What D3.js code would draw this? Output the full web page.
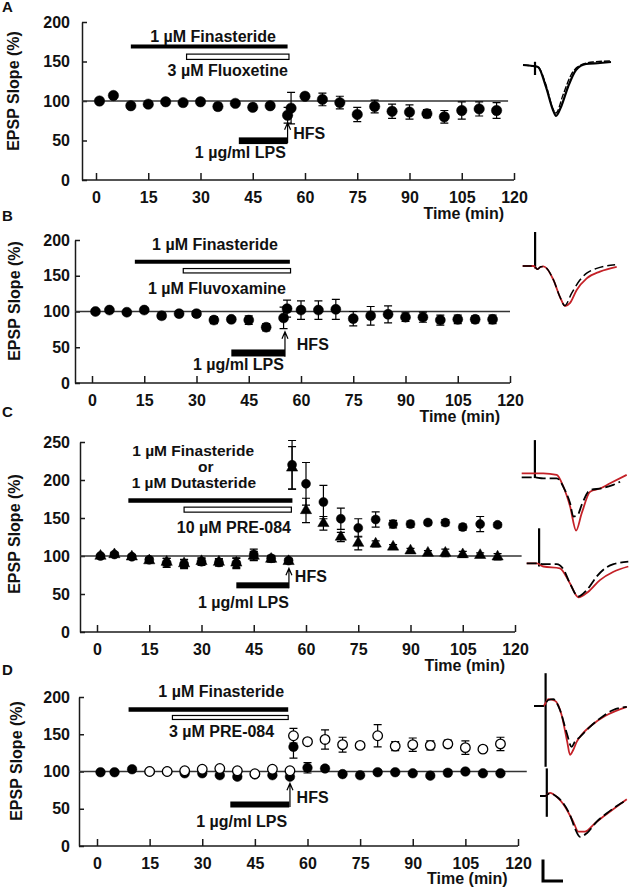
<!DOCTYPE html>
<html><head><meta charset="utf-8">
<script src="https://cdn.jsdelivr.net/npm/d3@7"></script>
<style>
body{margin:0;background:#fff;}
svg text{font-family:"Liberation Sans",Arial,sans-serif;font-weight:bold;fill:#111;}
</style></head><body>
<svg id="chart" width="630" height="889"></svg>
<script>
// ---------- data ----------
const timeTicks = [0,15,30,45,60,75,90,105,120];
const slopeTicks200 = [0,50,100,150,200];
const slopeTicks250 = [0,50,100,150,200,250];
const minutes = [1,5,10,15,20,25,30,35,40,45,50,55,56,60,65,70,75,80,85,90,95,100,105,110,115];

const slopeA = [100,107,94,96,99,98,99,93,97,92,94,82,91,106,102,98,83,93,87,86,84,80,88,90,88];
const semA   = [2,2,3,2,2,2,2,4,2,4,3,10,20,3,8,8,9,8,9,9,5,8,11,9,10];

const slopeB = [100,102,99,102,94,97,97,88,89,88,78,91,104,102,102,103,90,94,96,92,92,88,89,89,89];
const semB   = [2,2,2,3,4,3,4,5,3,6,5,15,12,13,13,14,10,13,12,6,7,7,6,5,6];

const slopeC_circle = [100,102,99,95,91,89.5,92.5,91.5,90.5,102,97,94,220,195,171,149,137,148,142,142,144,144,138,142,141];
const semC_circle   = [2,2,3,3,6,6,5,5,7,7,4,3,32,28,22,14,12,10,5,4,3,4,4,10,3];
const slopeC_triangle = [100,102,99,94,92,90,93,92,91,100,96,93,216,160,143,125,117,116,112,107,104,104,102,101,99];
const semC_triangle   = [2,2,2,3,5,5,4,4,6,6,4,3,28,16,9,6,9,4,3,3,3,5,4,3,4];

const slopeD_filled = [99,99,103,100,100,97.6,97.6,95,93,96,95,93,133,105,104,96.5,95,99,99,97.6,94.4,98.3,100,97.6,97.6];
const semD_filled   = [2,2,2,2,2,2,2,2,3,2,2,3,15,7,3,2,2,3,2,2,2,2,2,2,2];
const minutesD_open = [15,20,25,30,35,40,45,50,55,56,60,65,70,75,80,85,90,95,100,105,110,115];
const slopeD_open   = [100,100,101,103,104,101,97,103,101,148,140,143,136,135,148,134,136,135,137,132,130,137];
const semD_open     = [2,2,2,2,2,2,2,2,2,10,3,13,10,3,15,6,9,6,5,9,3,9];

// drug application bars [start min, end min, level %]
const barsA = {drug1:[10,55,169], drug2:[26,55.4,156], lps:[41,55,49.7]};
const barsB = {drug1:[12.3,56.8,169.6], drug2:[26.2,57,157], lps:[40,55.4,42]};
const barsC = {drug1:[9,56.1,173], drug2:[25,55.8,161], lps:[40,55.1,61.4]};
const barsD = {drug1:[9,54.5,183.2], drug2:[21.5,54.5,172.5], lps:[38,54.8,55.7]};

// example field potential traces [ms, mV]
const traceA_solid = [[0,0],[2.5,-0.025],[3.75,-0.05],[5.75,-0.55],[7.5,-1.125],[8.25,-1.275],[9.5,-1.05],[11.25,-0.55],[13.25,-0.125],[15.75,0.025],[19.25,0.05],[22,0.075]];
const traceA_dash  = [[0,0],[2.5,-0.025],[3.75,-0.05],[5.75,-0.5],[7.5,-1.1],[8.25,-1.2],[10,-0.75],[12,-0.25],[14.5,0],[17.5,0.075],[22,0.1]];
const traceB_red   = [[0,0],[2.7,0],[3.7,-0.08],[4.5,-0.02],[5.2,-0.01],[7.7,-0.35],[9.3,-0.77],[10.6,-1.0],[11.8,-0.93],[13.5,-0.6],[16,-0.31],[19.3,-0.14],[23.5,-0.02]];
const traceB_black = [[0,0],[2.7,0],[3.7,-0.08],[4.5,-0.02],[5.2,-0.01],[7.7,-0.35],[9.3,-0.77],[10.5,-0.99],[12.25,-0.68],[14.3,-0.35],[16,-0.18],[18.5,-0.06],[23.1,0.03]];
const traceC1_red   = [[0,0],[2.9,0],[5.4,0],[8.75,-0.04],[10.4,-0.33],[12.1,-0.83],[13.6,-1.43],[15,-1.0],[17.1,-0.46],[19.6,-0.38],[22.1,-0.25],[26.25,-0.04]];
const traceC1_black = [[0,-0.1],[2.9,-0.1],[5.4,-0.125],[8.75,-0.125],[10.8,-0.42],[12.1,-0.75],[12.9,-1.08],[14,-1.04],[15,-0.79],[17.1,-0.42],[20,-0.375],[22.9,-0.29],[24.6,-0.21]];
const traceC2_red   = [[0,0],[2.5,0],[4.2,-0.08],[8.3,-0.125],[10.8,-0.5],[12.9,-0.85],[15.4,-0.71],[18.3,-0.42],[21.7,-0.21],[25.4,-0.08]];
const traceC2_black = [[0,0],[2.5,0],[4.2,-0.02],[7.5,-0.02],[9.2,-0.15],[10.8,-0.5],[12.9,-0.83],[15,-0.67],[17.5,-0.33],[19.6,-0.125],[21.7,-0.02],[25.4,0.04]];
const traceD1_red   = [[0,0],[2.3,0],[3.6,0.17],[5.25,0.13],[6.9,-0.225],[8.3,-0.89],[9,-1.22],[9.8,-1.1],[10.7,-0.89],[11.9,-0.72],[14.4,-0.48],[17.75,-0.25],[23.2,-0.02]];
const traceD1_black = [[0,0],[2.3,0],[3.6,0.15],[4.8,0.17],[6.5,-0.1],[8.2,-0.68],[9.4,-1.02],[10.25,-0.89],[11.5,-0.77],[14,-0.52],[16.5,-0.31],[19.8,-0.1],[23.2,-0.02]];
const traceD2_red   = [[0,0],[1.25,0],[2.5,0.08],[4.2,-0.02],[5.8,-0.2],[8.3,-0.64],[9.6,-0.89],[11.25,-0.89],[13.75,-0.68],[16.7,-0.45],[21.7,-0.08]];
const traceD2_black = [[0,0],[1.25,0],[2.5,0.07],[4.2,-0.02],[5.8,-0.18],[7.5,-0.475],[8.75,-0.81],[10,-1.02],[11.7,-0.93],[14.2,-0.64],[16.7,-0.43],[19.2,-0.25],[21.7,-0.1]];
// stimulus artifacts [ms, top mV, bottom mV]
const artifactA = [3,0.08,-0.25];
const artifactB = [3.1,0.85,-0.06];
const artifactC1 = [3.3,0.83,-0.12];
const artifactC2 = [3.1,0.875,-0.08];
const artifactD1 = [2.9,0.82,-1.52];
const artifactD2 = [1.7,0.69,-0.52];
const scaleBar = [5,0.54]; // ms, mV

// ---------- drawing ----------
const svg = d3.select("#chart");
const RED = "#c42127";

const panels = [
 {letter:"A", letterY:12, xr:[96,514], yr:[180,22], ymax:200, ticks:slopeTicks200, axisX:82, lineEnd:118.3,
  titleX:19, titleY:91, timeY:219,
  series:[{t:minutes, v:slopeA, e:semA, shape:"circle", r:5.2}],
  bars:barsA,
  texts:[{s:"1 µM Finasteride", t:33.6, v:175, a:"middle"},
         {s:"3 µM Fluoxetine", t:55.1, v:131.6, a:"end"},
         {s:"1 µg/ml LPS", t:54.5, v:27.8, a:"end"}],
  arrow:[55,46.8,72.5], hfs:[56.6,51.5], th:[4,5.3,6.7]},
 {letter:"B", letterY:221, xr:[92,510], yr:[383,240], ymax:200, ticks:slopeTicks200, axisX:75, lineEnd:120,
  titleX:20, titleY:301, timeY:422,
  series:[{t:minutes, v:slopeB, e:semB, shape:"circle", r:5}],
  bars:barsB,
  texts:[{s:"1 µM Finasteride", t:35.3, v:186, a:"middle"},
         {s:"1 µM Fluvoxamine", t:55.7, v:124.5, a:"end"},
         {s:"1 µg/ml LPS", t:55.1, v:18.2, a:"end"}],
  arrow:[55.4,36.8,71.7], hfs:[58.8,46.2], th:[4,4.4,7]},
 {letter:"C", letterY:417, xr:[97,515], yr:[632,442], ymax:250, ticks:slopeTicks250, axisX:80, lineEnd:121.9,
  titleX:19.5, titleY:534, timeY:671,
  series:[{t:minutes, v:slopeC_triangle, e:semC_triangle, shape:"triangle", r:4.6},
          {t:minutes, v:slopeC_circle, e:semC_circle, shape:"circle", r:4.5}],
  bars:barsC,
  texts:[{s:"1 µM Finasteride", t:27.6, v:231.6, a:"middle", fs:15.5},
         {s:"or", t:31.2, v:210.5, a:"middle", fs:15.5},
         {s:"1 µM Dutasteride", t:27.8, v:189.8, a:"middle", fs:15.5},
         {s:"10 µM PRE-084", t:55.7, v:129.9, a:"end"},
         {s:"1 µg/ml LPS", t:55.1, v:31.2, a:"end"}],
  arrow:[55.1,57.5,83.8], hfs:[56.8,66.2], th:[4.5,5,6]},
 {letter:"D", letterY:675, xr:[97,518], yr:[846,697], ymax:200, ticks:slopeTicks200, axisX:79, lineEnd:122.5,
  titleX:22, titleY:761, timeY:884,
  series:[{t:minutes, v:slopeD_filled, e:semD_filled, shape:"circle", r:4.8},
          {t:minutesD_open, v:slopeD_open, e:semD_open, shape:"open", r:4.8}],
  bars:barsD,
  texts:[{s:"1 µM Finasteride", t:35.4, v:200.4, a:"middle"},
         {s:"3 µM PRE-084", t:35.5, v:146.7, a:"middle"},
         {s:"1 µg/ml LPS", t:54.2, v:25.9, a:"end"}],
  arrow:[55,52.3,84.2], hfs:[56.9,58.1], th:[4.5,4,6]}
];

const INK = "#1a1a1a";

panels.forEach(p => {
  const x = d3.scaleLinear().domain([0,120]).range(p.xr);
  const y = d3.scaleLinear().domain([0,p.ymax]).range(p.yr);
  const g = svg.append("g");

  // panel letter
  g.append("text").attr("x",2).attr("y",p.letterY).attr("font-size",15).text(p.letter);

  // y axis
  const ya = g.append("g").attr("transform",`translate(${p.axisX},0)`)
    .call(d3.axisLeft(y).tickValues(p.ticks).tickSizeInner(-5).tickSizeOuter(0).tickPadding(p.axisX-70));
  ya.attr("font-family",null).attr("font-size",null);
  ya.selectAll("text").attr("font-size",16);
  ya.selectAll("line").attr("stroke",INK).attr("stroke-width",1.5);
  ya.select(".domain").attr("stroke",INK).attr("stroke-width",1.5);

  // x axis
  const xa = g.append("g").attr("transform",`translate(0,${y(0)})`)
    .call(d3.axisBottom(x).tickValues(timeTicks).tickSizeInner(-7).tickSizeOuter(0).tickPadding(11.5));
  xa.attr("font-family",null).attr("font-size",null);
  xa.selectAll("text").attr("font-size",16);
  xa.selectAll("line").attr("stroke",INK).attr("stroke-width",1.5);
  xa.select(".domain").remove();
  g.append("line").attr("x1",p.axisX).attr("x2",x(120)).attr("y1",y(0)).attr("y2",y(0))
    .attr("stroke",INK).attr("stroke-width",1.5);

  // axis titles
  g.append("text").attr("transform",`translate(${p.titleX},${p.titleY}) rotate(-90)`)
    .attr("text-anchor","middle").attr("font-size",16).text("EPSP Slope (%)");
  g.append("text").attr("x",x(105)+2).attr("y",p.timeY).attr("text-anchor","middle")
    .attr("font-size",16).text("Time (min)");

  // 100% reference line
  g.append("line").attr("x1",p.axisX).attr("x2",x(p.lineEnd)).attr("y1",y(100)).attr("y2",y(100))
    .attr("stroke","#333").attr("stroke-width",1.4);

  // drug bars
  const b = p.bars;
  g.append("rect").attr("x",x(b.drug1[0])).attr("width",x(b.drug1[1])-x(b.drug1[0]))
    .attr("y",y(b.drug1[2])-p.th[0]/2).attr("height",p.th[0]).attr("fill","#000");
  g.append("rect").attr("x",x(b.drug2[0])).attr("width",x(b.drug2[1])-x(b.drug2[0]))
    .attr("y",y(b.drug2[2])-p.th[1]/2).attr("height",p.th[1]).attr("fill","#fff")
    .attr("stroke","#000").attr("stroke-width",1.2);
  g.append("rect").attr("x",x(b.lps[0])).attr("width",x(b.lps[1])-x(b.lps[0]))
    .attr("y",y(b.lps[2])-p.th[2]/2).attr("height",p.th[2]).attr("fill","#000");

  // labels
  p.texts.forEach(tx => {
    g.append("text").attr("x",x(tx.t)).attr("y",y(tx.v)).attr("text-anchor",tx.a)
      .attr("font-size",tx.fs||16).text(tx.s);
  });

  // HFS arrow
  const ax = x(p.arrow[0]), a0 = y(p.arrow[1]), a1 = y(p.arrow[2]);
  g.append("path").attr("d",`M${ax},${a0}V${a1}M${ax-3},${a1+7}L${ax},${a1}L${ax+3},${a1+7}`)
    .attr("fill","none").attr("stroke","#000").attr("stroke-width",1.2);
  g.append("text").attr("x",x(p.hfs[0])).attr("y",y(p.hfs[1])).attr("font-size",16).text("HFS");

  // series
  p.series.forEach(s => {
    const pts = s.t.map((t,i)=>({t, v:s.v[i], e:s.e[i]}));
    const eb = g.append("g").attr("stroke","#000").attr("stroke-width",1.2);
    pts.forEach(d => {
      const cx = x(d.t), yt = y(d.v+d.e), yb = y(d.v-d.e);
      eb.append("path").attr("d",`M${cx},${yt}V${yb}M${cx-4},${yt}H${cx+4}M${cx-4},${yb}H${cx+4}`);
    });
  });
  p.series.forEach(s => {
    const pts = s.t.map((t,i)=>({t, v:s.v[i]}));
    g.append("g").selectAll("path").data(pts).join("path")
      .attr("transform",d=>`translate(${x(d.t)},${y(d.v)})`)
      .attr("d", s.shape==="triangle"
          ? d3.symbol().type(d3.symbolTriangle).size(s.r*s.r*2.6)()
          : d3.symbol().type(d3.symbolCircle).size(Math.PI*s.r*s.r)())
      .attr("fill", s.shape==="open" ? "#fff" : "#000")
      .attr("stroke","#000").attr("stroke-width", s.shape==="open" ? 1.3 : 0.5);
  });
});

// ---------- example traces ----------
const insets = [
 {x0:523, y0:65, traces:[{d:traceA_dash, c:"#000", w:1.4, dash:"6,2"},{d:traceA_solid, c:"#000", w:2.2}], art:artifactA},
 {x0:522.7, y0:266, traces:[{d:traceB_red, c:RED, w:1.8},{d:traceB_black, c:"#000", w:1.5, dash:"9,4"}], art:artifactB},
 {x0:521.7, y0:473.3, traces:[{d:traceC1_red, c:RED, w:1.8},{d:traceC1_black, c:"#000", w:1.8, dash:"10,4"}], art:artifactC1},
 {x0:526.7, y0:563.3, traces:[{d:traceC2_red, c:RED, w:1.8},{d:traceC2_black, c:"#000", w:1.8, dash:"10,4"}], art:artifactC2},
 {x0:534, y0:706, traces:[{d:traceD1_red, c:RED, w:1.8},{d:traceD1_black, c:"#000", w:1.8, dash:"10,4"}], art:artifactD1},
 {x0:540, y0:796, traces:[{d:traceD2_red, c:RED, w:1.8},{d:traceD2_black, c:"#000", w:1.8, dash:"10,4"}], art:artifactD2}
];
insets.forEach(ins => {
  const tx = d3.scaleLinear().domain([0,25]).range([ins.x0, ins.x0+100]);
  const ty = d3.scaleLinear().domain([0,-1.25]).range([ins.y0, ins.y0+50]);
  const line = d3.line().x(d=>tx(d[0])).y(d=>ty(d[1])).curve(d3.curveMonotoneX);
  const g = svg.append("g");
  g.append("line").attr("x1",tx(ins.art[0])).attr("x2",tx(ins.art[0]))
    .attr("y1",ty(ins.art[1])).attr("y2",ty(ins.art[2])).attr("stroke","#000").attr("stroke-width",2.2);
  ins.traces.forEach(tr => {
    g.append("path").attr("d",line(tr.d)).attr("fill","none").attr("stroke",tr.c)
      .attr("stroke-width",tr.w).attr("stroke-dasharray",tr.dash||null).attr("stroke-linejoin","round");
  });
});

// scale bar
{
  const tx = d3.scaleLinear().domain([0,25]).range([543, 643]);
  const ty = d3.scaleLinear().domain([0,1.25]).range([881, 831]);
  svg.append("path")
    .attr("d",`M${tx(0)},${ty(scaleBar[1])}V${ty(0)}H${tx(scaleBar[0])}`)
    .attr("fill","none").attr("stroke","#000").attr("stroke-width",3);
}
</script>
</body></html>
